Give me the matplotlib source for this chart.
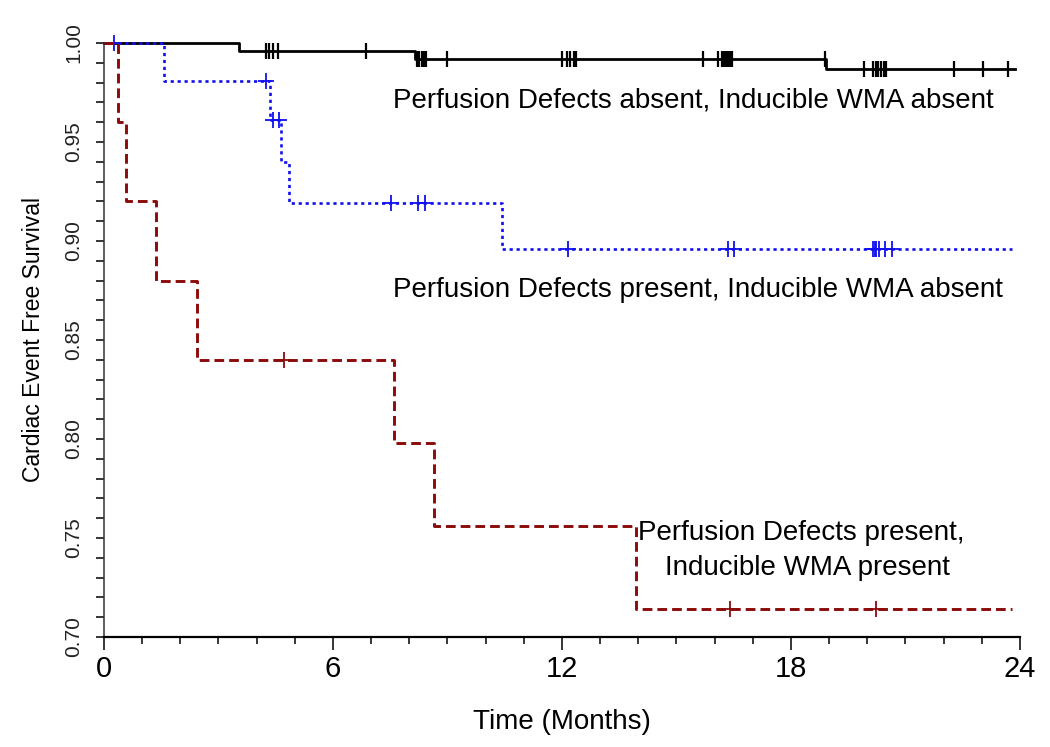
import numpy as np
import matplotlib
matplotlib.use("Agg")
import matplotlib.pyplot as plt
from matplotlib.ticker import MultipleLocator, FormatStrFormatter

plt.rcParams['font.family'] = ['Liberation Sans', 'DejaVu Sans']
plt.rcParams['lines.scale_dashes'] = False

# Kaplan-Meier steps (time in months, survival)
black_event_t = [3.54, 8.15, 18.93]
black_event_s = [0.996, 0.992, 0.987]
black_cens_t = [4.24, 4.32, 4.43, 4.57, 6.86, 8.19, 8.25, 8.32, 8.38, 8.45, 9.00,
                11.99, 12.12, 12.21, 12.31, 12.38, 15.69, 16.09, 16.18, 16.25,
                16.30, 16.35, 16.40, 16.46, 18.88, 19.91, 20.15, 20.22, 20.29,
                20.36, 20.43, 20.50, 22.28, 23.04, 23.69]
black_end = 23.87

blue_event_t = [1.57, 4.35, 4.63, 4.85, 10.43]
blue_event_s = [0.981, 0.961, 0.940, 0.919, 0.896]
blue_cens_t = [0.26, 4.24, 4.42, 4.58, 7.52, 8.23, 8.41, 12.17, 16.34, 16.51,
               20.16, 20.19, 20.24, 20.30, 20.46, 20.65]
blue_end = 23.78

red_event_t = [0.37, 0.58, 1.36, 2.44, 7.60, 8.65, 13.94]
red_event_s = [0.96, 0.92, 0.88, 0.84, 0.798, 0.756, 0.714]
red_cens_t = [4.72, 16.40, 20.23]
red_end = 23.79

labels = ["Perfusion Defects absent, Inducible WMA absent",
          "Perfusion Defects present, Inducible WMA absent",
          "Perfusion Defects present,",
          "Inducible WMA present"]


def km_curve(ev_t, ev_s, end):
    t = np.array([0.0] + ev_t + [end])
    s = np.array([1.0] + ev_s + [ev_s[-1]])
    return t, s


def surv_at(ev_t, ev_s, times):
    idx = np.searchsorted(np.array(ev_t), np.array(times), side='right')
    s = np.array([1.0] + ev_s)
    return s[idx]


fig = plt.figure(figsize=(10.5, 7.47), dpi=100)
ax = fig.add_axes([0.099, 0.1473, 0.8724, 0.7951])

curves = [
    (black_event_t, black_event_s, black_cens_t, black_end, 'black', '-', '|', 2.0, 1),
    (blue_event_t, blue_event_s, blue_cens_t, blue_end, '#1010f0', (0, (2.3, 2.7)), '+', 1.9, 2),
    (red_event_t, red_event_s, red_cens_t, red_end, '#8b0a0a', (0, (7.0, 3.6)), '+', 2.1, 3),
]
for ev_t, ev_s, c_t, end, col, ls, mk, lw, z in curves:
    t, s = km_curve(ev_t, ev_s, end)
    ax.step(t, s, where='post', color=col, linestyle=ls, linewidth=lw,
            zorder=z, clip_on=False)
    ax.plot(c_t, surv_at(ev_t, ev_s, c_t), linestyle='none', marker=mk,
            markersize=12 if mk == '+' else 11,
            markeredgewidth=1.3 if mk == '+' else 1.6,
            color=col, zorder=z, clip_on=False)

ax.set_xlim(0, 24)
ax.set_ylim(0.70, 1.00)
ax.xaxis.set_major_locator(MultipleLocator(6))
ax.xaxis.set_minor_locator(MultipleLocator(1))
ax.yaxis.set_major_locator(MultipleLocator(0.05))
ax.yaxis.set_minor_locator(MultipleLocator(0.01))
ax.yaxis.set_major_formatter(FormatStrFormatter('%.2f'))

for side in ['top', 'right']:
    ax.spines[side].set_visible(False)
ax.spines['left'].set_linewidth(1.1)
ax.spines['bottom'].set_linewidth(1.6)
ax.spines['left'].set_color('#333333')

ax.tick_params(axis='x', which='major', length=9, width=1.1, pad=4)
ax.tick_params(axis='x', which='minor', length=5, width=1.1)
ax.tick_params(axis='y', which='both', length=6, width=1.1, pad=9)
for lab in ax.get_yticklabels():
    lab.set_rotation(90)
    lab.set_va('center')
    lab.set_fontsize(15)
    lab.set_color('#222222')
for lab in ax.get_xticklabels():
    lab.set_fontsize(21)

ax.set_xlabel("Time (Months)", fontsize=20, labelpad=19)
ax.set_ylabel("Cardiac Event Free Survival", fontsize=16.5, labelpad=14)

ax.text(7.57, 0.9712, labels[0], fontsize=20, va='center', ha='left')
ax.text(7.57, 0.8753, labels[1], fontsize=20, va='center', ha='left')
ax.text(13.99, 0.7525, labels[2], fontsize=20, va='center', ha='left')
ax.text(14.70, 0.7348, labels[3], fontsize=20, va='center', ha='left')

fig.savefig('out.png', dpi=100)
